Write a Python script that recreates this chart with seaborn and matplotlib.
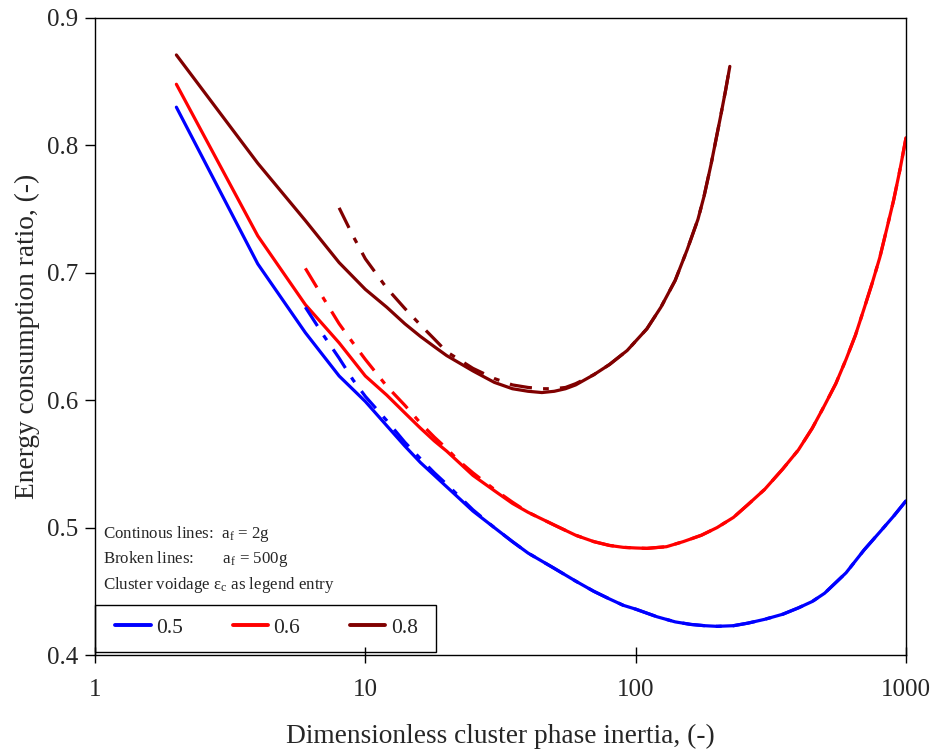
import matplotlib
matplotlib.use("Agg")
import matplotlib.pyplot as plt
from matplotlib.patches import Rectangle
import seaborn as sns
import pandas as pd

# ---------------- data ----------------
# continuous lines: a_f = 2g
x_05_cont = [2, 4, 6, 8, 10, 12, 14, 16, 18, 20, 25, 30, 35, 40, 50, 60, 70, 80, 90, 100, 120, 140, 160, 180,
             200, 230, 260, 300, 350, 400, 450, 500, 600, 700, 800, 900, 1000]
y_05_cont = [0.830, 0.707, 0.653, 0.619, 0.599, 0.580, 0.564, 0.551, 0.541, 0.532, 0.513, 0.500, 0.489, 0.480,
             0.468, 0.458, 0.450, 0.444, 0.439, 0.436, 0.430, 0.426, 0.424, 0.423, 0.4225, 0.423, 0.425, 0.428,
             0.432, 0.437, 0.442, 0.4485, 0.4645, 0.4825, 0.4965, 0.509, 0.521]
x_06_cont = [2, 4, 6, 8, 10, 12, 14, 16, 18, 20, 25, 30, 35, 40, 50, 60, 70, 80, 90, 100, 110, 130, 150, 175,
             200, 230, 260, 300, 350, 400, 450, 500, 550, 600, 650, 700, 750, 800, 850, 900, 950, 1000]
y_06_cont = [0.848, 0.729, 0.675, 0.645, 0.619, 0.604, 0.590, 0.578, 0.568, 0.560, 0.541, 0.529, 0.519, 0.512,
             0.502, 0.494, 0.489, 0.486, 0.4845, 0.484, 0.4837, 0.485, 0.489, 0.494, 0.500, 0.508, 0.518, 0.530,
             0.546, 0.561, 0.578, 0.596, 0.613, 0.632, 0.651, 0.672, 0.692, 0.712, 0.735, 0.757, 0.781, 0.806]
x_08_cont = [2, 4, 6, 8, 10, 12, 14, 16, 18, 20, 25, 30, 35, 40, 45, 50, 55, 60, 70, 80, 93, 110, 124, 140,
             155, 170, 179, 190, 206, 215, 223]
y_08_cont = [0.871, 0.786, 0.741, 0.708, 0.687, 0.673, 0.660, 0.650, 0.642, 0.635, 0.623, 0.614, 0.609, 0.607,
             0.606, 0.607, 0.609, 0.612, 0.620, 0.628, 0.639, 0.656, 0.673, 0.694, 0.718, 0.742, 0.760, 0.785,
             0.8225, 0.843, 0.862]

# broken lines: a_f = 500g
x_05_brok = [6, 7, 8, 9, 10, 12, 14, 16, 18, 20, 25, 30, 35, 40, 50, 60, 70, 80, 90, 100, 120, 140, 160, 180,
             200, 230, 260, 300, 350, 400, 450, 500, 600, 700, 800, 900, 1000]
y_05_brok = [0.673, 0.651, 0.633, 0.616, 0.603, 0.584, 0.567, 0.554, 0.543, 0.534, 0.514, 0.500, 0.489, 0.480,
             0.468, 0.458, 0.450, 0.444, 0.439, 0.436, 0.430, 0.426, 0.424, 0.423, 0.4225, 0.423, 0.425, 0.428,
             0.432, 0.437, 0.442, 0.4485, 0.4645, 0.4825, 0.4965, 0.509, 0.521]
x_06_brok = [6, 7, 8, 9, 10, 12, 14, 16, 18, 20, 22, 25, 30, 35, 40, 50, 60, 70, 80, 90, 100, 110, 130, 150,
             175, 200, 230, 260, 300, 350, 400, 450, 500, 550, 600, 650, 700, 750, 800, 850, 900, 950, 1000]
y_06_brok = [0.7035, 0.680, 0.660, 0.645, 0.632, 0.611, 0.596, 0.582, 0.571, 0.562, 0.553, 0.543, 0.530, 0.520,
             0.512, 0.502, 0.494, 0.489, 0.486, 0.4845, 0.484, 0.4837, 0.485, 0.489, 0.494, 0.500, 0.508, 0.518,
             0.530, 0.546, 0.561, 0.578, 0.596, 0.613, 0.632, 0.651, 0.672, 0.692, 0.712, 0.735, 0.757, 0.781,
             0.806]
x_08_brok = [8, 9, 10, 12, 14, 16, 18, 20, 25, 30, 35, 40, 45, 50, 55, 60, 70, 80, 93, 110, 124, 140, 155, 170,
             179, 190, 206, 215, 223]
y_08_brok = [0.751, 0.729, 0.711, 0.688, 0.672, 0.659, 0.648, 0.638, 0.625, 0.617, 0.612, 0.610, 0.609, 0.609,
             0.610, 0.613, 0.620, 0.628, 0.639, 0.656, 0.673, 0.694, 0.718, 0.742, 0.760, 0.785, 0.8225, 0.843,
             0.862]

legend_labels = ["0.5", "0.6", "0.8"]
colors = ["#0000FF", "#FF0000", "#800000"]
x_ticks = [1, 10, 100, 1000]
y_ticks = [0.4, 0.5, 0.6, 0.7, 0.8, 0.9]

# ---------------- style ----------------
sns.set_theme(style="white")
plt.rcParams["font.family"] = ["Liberation Serif", "DejaVu Serif"]
plt.rcParams["mathtext.fontset"] = "custom"
plt.rcParams["mathtext.rm"] = "Liberation Serif"
plt.rcParams["mathtext.it"] = "Liberation Serif:italic"

fig = plt.figure(figsize=(9.32, 7.49), dpi=100)
ax = fig.add_axes([95 / 932, 94 / 749, 811 / 932, 637 / 749])

lw = 2.3
brok_style = (0, (7, 3.5, 1.8, 3.5))

cont = [(x_05_cont, y_05_cont), (x_06_cont, y_06_cont), (x_08_cont, y_08_cont)]
brok = [(x_05_brok, y_05_brok), (x_06_brok, y_06_brok), (x_08_brok, y_08_brok)]

for (xs, ys), c, lab in zip(cont, colors, legend_labels):
    df = pd.DataFrame({"x": xs, "y": ys})
    sns.lineplot(data=df, x="x", y="y", color=c, lw=lw, ax=ax, label=lab, sort=False)
for (xs, ys), c in zip(brok, colors):
    df = pd.DataFrame({"x": xs, "y": ys})
    sns.lineplot(data=df, x="x", y="y", color=c, lw=lw, ax=ax, linestyle=brok_style,
                 label="_nolegend_", sort=False)

ax.set_xscale("log")
ax.set_xlim(1, 1000)
ax.set_ylim(0.4, 0.9)
ax.set_xticks(x_ticks)
ax.set_xticklabels([str(t) for t in x_ticks])
ax.minorticks_off()
ax.set_yticks(y_ticks)
ax.set_yticklabels([f"{t:.1f}" for t in y_ticks])

for s in ax.spines.values():
    s.set_color("black")
    s.set_linewidth(1.0)

ax.tick_params(axis="y", direction="out", length=7, width=1, color="black", labelsize=18, pad=5, left=True)
ax.tick_params(axis="x", direction="inout", length=12, width=1, color="black", labelsize=18, pad=11,
               bottom=True)

ax.set_xlabel("Dimensionless cluster phase inertia, (-)", fontsize=19.7, labelpad=17)
ax.set_ylabel("Energy consumption ratio, (-)", fontsize=19.7, labelpad=5)

# annotation text
fs_note = 12.2
ax.text(0.010, 0.190, r"Continous lines:  a$_\mathrm{f}$ = 2g", transform=ax.transAxes, fontsize=fs_note,
        va="center", ha="left")
ax.text(0.010, 0.151, r"Broken lines:       a$_\mathrm{f}$ = 500g", transform=ax.transAxes, fontsize=fs_note,
        va="center", ha="left")
ax.text(0.010, 0.110, r"Cluster voidage ε$_\mathrm{c}$ as legend entry", transform=ax.transAxes,
        fontsize=fs_note, va="center", ha="left")

# legend frame + legend entries
ax.add_patch(Rectangle((0.0, 0.005), 0.420, 0.0735, transform=ax.transAxes, fill=False,
                       edgecolor="black", linewidth=1.0, zorder=5, clip_on=False))
leg = ax.legend(loc="center", bbox_to_anchor=(0.2115, 0.0424), ncol=3, frameon=False, fontsize=15.5,
                handlelength=1.65, handletextpad=0.25, columnspacing=2.3, borderpad=0.0,
                borderaxespad=0.0)
for h in leg.legend_handles:
    h.set_linewidth(2.8)

fig.savefig("out.png", dpi=100, facecolor="white")
